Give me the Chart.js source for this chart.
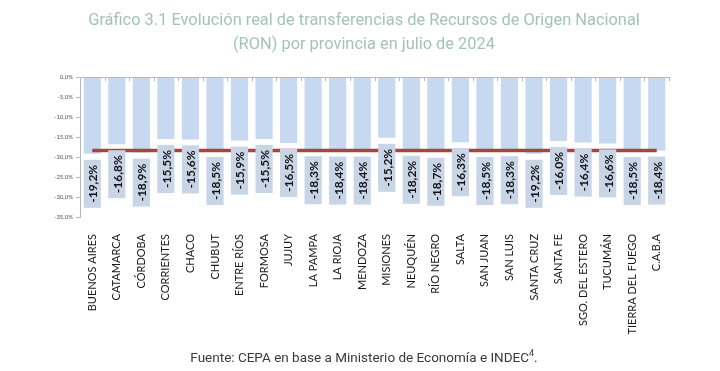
<!doctype html>
<html lang="es">
<head>
<meta charset="utf-8">
<title>Gráfico 3.1</title>
<script src="https://cdn.jsdelivr.net/npm/chart.js@4.4.1/dist/chart.umd.min.js"></script>
<style>
  html, body { margin: 0; padding: 0; background: #fff; }
  #wrap { position: relative; width: 720px; height: 371px; }
  #titulo {
    position: absolute; left: 0; top: 8px; width: 728px; text-align: center;
    font-family: Roboto, sans-serif; font-size: 16.4px; line-height: 24px; color: #a3c3ba;
  }
  #fuente {
    position: absolute; left: 0; top: 348px; width: 728px; text-align: center;
    font-family: Roboto, sans-serif; font-size: 13.5px; color: #3a3a3a;
  }
</style>
</head>
<body>
<div id="wrap">
  <canvas id="chart"></canvas>
  <div id="titulo">Gráfico 3.1 Evolución real de transferencias de Recursos de Origen Nacional<br>(RON) por provincia en julio de 2024</div>
  <div id="fuente">Fuente: CEPA en base a Ministerio de Economía e INDEC<sup style="font-size:9px">4</sup>.</div>
</div>
<script>
const provincias = ['BUENOS AIRES', 'CATAMARCA', 'CÓRDOBA', 'CORRIENTES', 'CHACO', 'CHUBUT',
  'ENTRE RÍOS', 'FORMOSA', 'JUJUY', 'LA PAMPA', 'LA RIOJA', 'MENDOZA', 'MISIONES', 'NEUQUÉN',
  'RÍO NEGRO', 'SALTA', 'SAN JUAN', 'SAN LUIS', 'SANTA CRUZ', 'SANTA FE', 'SGO. DEL ESTERO',
  'TUCUMÁN', 'TIERRA DEL FUEGO', 'C.A.B.A'];
const variacion = [-19.2, -16.8, -18.9, -15.5, -15.6, -18.5, -15.9, -15.5, -16.5, -18.3, -18.4, -18.4,
  -15.2, -18.2, -18.7, -16.3, -18.5, -18.3, -19.2, -16.0, -16.4, -16.6, -18.5, -18.4];
const promedio = provincias.map(() => -18.4);

const fmt = v => v.toFixed(1).replace('.', ',') + '%';

// cajas con el valor debajo de cada barra + linea del cero
const etiquetas = {
  id: 'etiquetas',
  afterDatasetsDraw(chart) {
    const ctx = chart.ctx;
    const meta = chart.getDatasetMeta(0);
    ctx.save();
    ctx.font = 'bold 12px Lato';
    meta.data.forEach((bar, i) => {
      const txt = fmt(variacion[i]);
      const tw = ctx.measureText(txt).width;
      const w = bar.width;
      const top = bar.y + 6;
      const h = tw + 10;
      ctx.fillStyle = '#c7d5e6';
      ctx.fillRect(bar.x - w / 2, top, w, h);
      ctx.save();
      ctx.translate(bar.x, top + h / 2);
      ctx.rotate(-Math.PI / 2);
      ctx.fillStyle = '#111';
      ctx.textAlign = 'center';
      ctx.textBaseline = 'middle';
      ctx.fillText(txt, 0, 1);
      ctx.restore();
    });
    const x = chart.scales.x, y = chart.scales.y;
    const y0 = y.getPixelForValue(0);
    ctx.strokeStyle = '#b8b8b8';
    ctx.lineWidth = 1;
    ctx.beginPath();
    ctx.moveTo(chart.chartArea.left, y0 + 0.5);
    ctx.lineTo(chart.chartArea.right, y0 + 0.5);
    for (let i = 0; i <= provincias.length; i++) {
      const px = Math.round(x.getPixelForValue(i - 0.5)) + 0.5;
      ctx.moveTo(px, y0);
      ctx.lineTo(px, y0 + 4);
    }
    ctx.stroke();
    ctx.restore();
  }
};

new Chart(document.getElementById('chart'), {
  data: {
    labels: provincias,
    datasets: [
      {
        type: 'bar',
        data: variacion,
        backgroundColor: '#c6d9f1',
        barPercentage: 0.7,
        categoryPercentage: 1,
        order: 2
      },
      {
        type: 'line',
        data: promedio,
        borderColor: '#a4453f',
        borderWidth: 3.5,
        pointRadius: 0,
        order: 1
      }
    ]
  },
  options: {
    responsive: true,
    maintainAspectRatio: false,
    animation: false,
    layout: { padding: { left: 0, right: 51, top: 77, bottom: 10 } },
    plugins: {
      legend: { display: false },
      tooltip: { enabled: false }
    },
    scales: {
      x: {
        afterFit(s) { s.height = 144; },
        grid: { display: false },
        border: { display: false },
        ticks: {
          autoSkip: false,
          maxRotation: 90,
          minRotation: 90,
          color: '#1a1a1a',
          font: { family: 'Lato', size: 11 },
          padding: 9
        }
      },
      y: {
        min: -35,
        max: 0,
        afterFit(s) { s.width = 80; },
        grid: { drawOnChartArea: false, tickLength: 4, color: '#b8b8b8' },
        border: { color: '#b8b8b8' },
        ticks: {
          stepSize: 5,
          color: '#555',
          font: { family: 'Lato', size: 6 },
          callback: v => fmt(v)
        }
      }
    }
  },
  plugins: [etiquetas]
});
</script>
</body>
</html>
